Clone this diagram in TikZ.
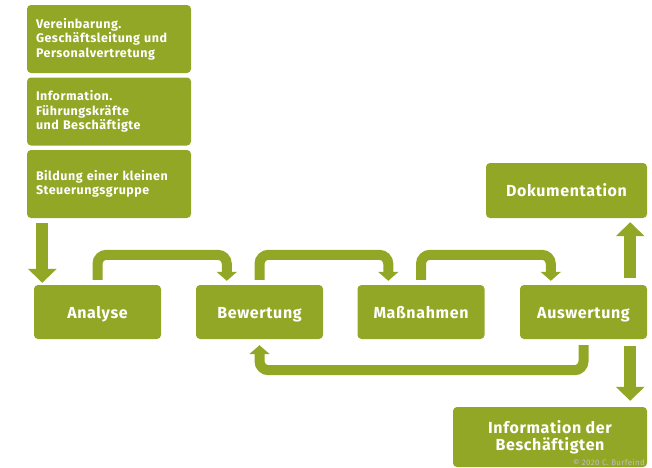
\documentclass[tikz,border=0pt]{standalone}
\usepackage{fontspec}
\setmainfont[LetterSpace=4]{Fira Sans}
\usetikzlibrary{arrows.meta,positioning}

\definecolor{oliveleaf}{RGB}{146,167,38}

\begin{document}
\begin{tikzpicture}[x=1pt, y=-1pt,
  stepbox/.style={fill=oliveleaf, rounded corners=4pt, text=white, font=\bfseries\fontsize{16}{17}\selectfont,
    minimum width=127pt, minimum height=54pt, inner sep=0pt, align=center},
  oneline/.style={text height=14pt, text depth=2pt},
  notebox/.style={fill=oliveleaf, rounded corners=4pt, text=white, font=\bfseries\fontsize{12.5}{14.5}\selectfont,
    minimum width=164pt, minimum height=68pt, inner sep=0pt, text width=146pt, align=left},
  looparrow/.style={draw=oliveleaf, line width=10pt, rounded corners=9pt,
    -{Triangle[width=20pt,length=9pt]}},
  bigarrow/.style={draw=oliveleaf, line width=12pt, -{Triangle[width=28pt,length=14pt]}}]

\useasboundingbox (0,0) rectangle (652,467);

%─────────────
% Preparation (left column)
%─────────────
\node[notebox] (vereinb) at (109,39)    {Vereinbarung.\\Geschäftsleitung und\\Personalvertretung};
\node[notebox] (inform)  at (109,111.5) {Information.\\Führungskräfte\\und Beschäftigte};
\node[notebox] (bildung) at (109,184)   {Bildung einer kleinen\\Steuerungsgruppe};

%─────────────
% Main steps
%─────────────
\node[stepbox, oneline] (analyse) at (97.5,312)  {Analyse};
\node[stepbox, oneline] (bewert)  at (259.5,312) {Bewertung};
\node[stepbox, oneline] (massn)   at (421,312)   {Maßnahmen};
\node[stepbox, oneline] (auswert) at (583.5,312) {Auswertung};

\node[stepbox, oneline, minimum width=161pt, minimum height=55pt] (doku) at (566.5,190.5) {Dokumentation};
\node[stepbox, minimum width=194pt, minimum height=60pt] (infobe) at (550,437) {Information der\\Beschäftigten};

%─────────────
% Connectors
%─────────────
\draw[bigarrow] ([xshift=15.5pt,yshift=-5pt]bildung.south west) -- ([xshift=8.5pt,yshift=2pt]analyse.north west);

\draw[looparrow] ([yshift=5pt]analyse.north) -- ++(0,-25) -| ([xshift=31pt,yshift=4pt]bewert.north west);
\draw[looparrow] ([yshift=5pt]bewert.north)  -- ++(0,-25) -| ([xshift=31pt,yshift=4pt]massn.north west);
\draw[looparrow] ([yshift=5pt]massn.north)   -- ++(0,-25) -| ([xshift=31pt,yshift=4pt]auswert.north west);

% back to Bewertung
\draw[looparrow] ([yshift=-6pt]auswert.south) -- ++(0,25) -| ([yshift=-6pt]bewert.south);

\draw[bigarrow] ([xshift=-17pt,yshift=7pt]auswert.north east) -- ([xshift=-17pt,yshift=-4pt]doku.south east);
\draw[bigarrow] ([xshift=-17pt,yshift=-7pt]auswert.south east) -- ([xshift=-17pt,yshift=6pt]infobe.north east);

%─────────────
% Credit
%─────────────
\node[anchor=base east, text=black!25, font=\fontsize{8}{9}\selectfont, inner sep=0pt] (credit) at (645,465) {© 2020 C. Burfeind};

\end{tikzpicture}
\end{document}
